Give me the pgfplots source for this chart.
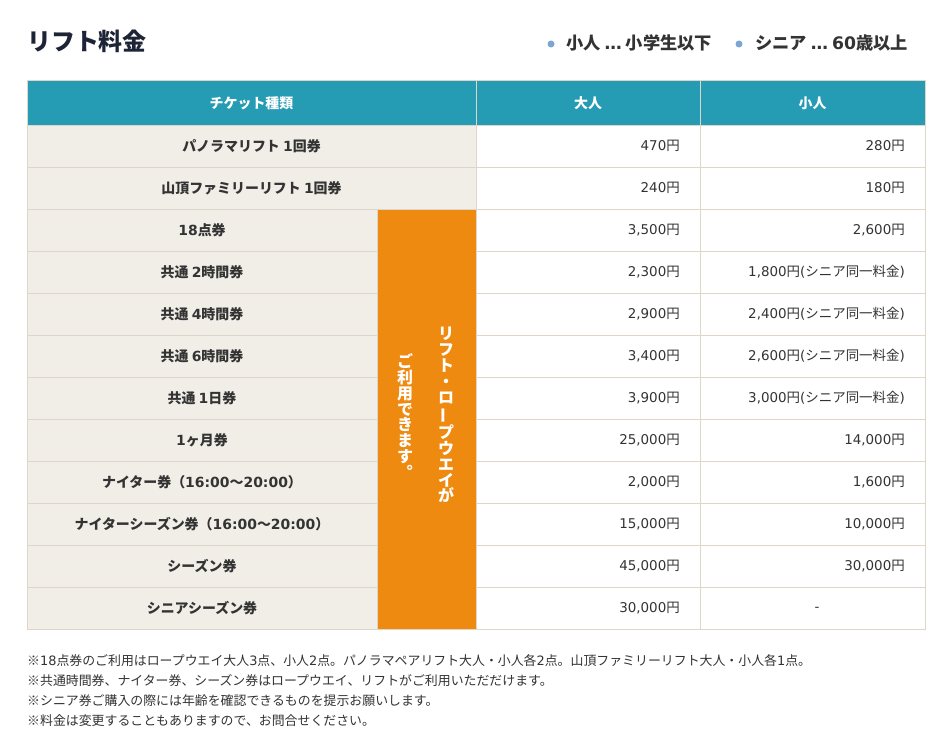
\documentclass[border=0pt]{standalone}
\usepackage{fontspec}
\usepackage{graphicx}
\usepackage{pgfplots}
\pgfplotsset{compat=1.18}
\setmainfont{Noto Sans CJK JP}
\newfontfamily\latfont{DejaVu Sans}
\newfontfamily\cjkfont{Noto Sans CJK JP}
\definecolor{teal}{HTML}{269CB4}
\definecolor{beige}{HTML}{F1EEE8}
\definecolor{gline}{HTML}{DED6C8}
\definecolor{orng}{HTML}{EF8A10}
\definecolor{txt}{HTML}{333333}
\definecolor{titlec}{HTML}{1D2435}
\definecolor{bullet}{HTML}{7BA6D3}
\newcommand\fs[1]{\fontsize{#1}{#1}\selectfont}
\newXeTeXintercharclass\CJKcls
\newcount\cc
\def\setcls#1#2{\cc=#1\relax\loop\XeTeXcharclass\cc=\CJKcls\relax\ifnum\cc<#2\advance\cc by 1\repeat}
\setcls{"3000}{"30FF}
\setcls{"4E00}{"9FFF}
\setcls{"FE10}{"FE4F}
\setcls{"FF00}{"FFEF}
\XeTeXcharclass"203B=\CJKcls
\XeTeXinterchartoks \CJKcls 0 = {\latfont}
\XeTeXinterchartoks 0 \CJKcls = {\cjkfont}
\XeTeXinterchartoks 4095 0 = {\latfont}
\XeTeXinterchartoks 0 4095 = {\cjkfont}
\newcommand\vbar{\rotatebox[origin=c]{90}{ー}}
\begin{document}
\XeTeXinterchartokenstate=1
\begin{tikzpicture}
\begin{axis}[
  x=1bp, y=1bp, y dir=reverse,
  xmin=0, xmax=944, ymin=0, ymax=745,
  hide axis, clip=false,
]
% background and cells
\fill[white] (0,0) rectangle (944,745);
\fill[teal] (27,81) rectangle (925,125);
\fill[beige] (27,125) rectangle (476,209);
\fill[beige] (27,209) rectangle (377,629);
\fill[orng] (377,209) rectangle (476,629);
% grid lines
\draw[gline, line width=1bp] (27,81) rectangle (925,629);
\draw[gline, line width=1bp] (27,125) -- (925,125);
\draw[gline, line width=1bp] (27,167) -- (925,167);
\draw[gline, line width=1bp] (27,209) -- (925,209);
\draw[gline, line width=1bp] (27,251) -- (377,251) (476,251) -- (925,251);
\draw[gline, line width=1bp] (27,293) -- (377,293) (476,293) -- (925,293);
\draw[gline, line width=1bp] (27,335) -- (377,335) (476,335) -- (925,335);
\draw[gline, line width=1bp] (27,377) -- (377,377) (476,377) -- (925,377);
\draw[gline, line width=1bp] (27,419) -- (377,419) (476,419) -- (925,419);
\draw[gline, line width=1bp] (27,461) -- (377,461) (476,461) -- (925,461);
\draw[gline, line width=1bp] (27,503) -- (377,503) (476,503) -- (925,503);
\draw[gline, line width=1bp] (27,545) -- (377,545) (476,545) -- (925,545);
\draw[gline, line width=1bp] (27,587) -- (377,587) (476,587) -- (925,587);
\draw[gline, line width=1bp] (476,81) -- (476,629);
\draw[gline, line width=1bp] (700,81) -- (700,629);
\draw[gline, line width=1bp] (377,209) -- (377,629);
% title and legend
\node[anchor=west, inner sep=0pt, font=\bfseries\fs{24}, text=titlec] at (27,41) {リフト料金};
\node[circle, fill=bullet, inner sep=0pt, minimum size=7bp] at (551,44) {};
\node[circle, fill=bullet, inner sep=0pt, minimum size=7bp] at (739,44) {};
\node[anchor=west, inner sep=0pt, font=\bfseries\fs{17.3}, text=txt] at (566,43) {小人 … 小学生以下};
\node[anchor=west, inner sep=0pt, font=\bfseries\fs{17.3}, text=txt] at (755,43) {シニア … 60歳以上};
% header
\node[font=\bfseries\fs{14}, text=white] at (251.5,103) {チケット種類};
\node[font=\bfseries\fs{14}, text=white] at (588,103) {大人};
\node[font=\bfseries\fs{14}, text=white] at (812.5,103) {小人};
% row labels
\begin{scope}[every node/.style={font=\bfseries\fs{14}, text=txt, inner sep=0pt}]
\node at (251.5,146) {パノラマリフト 1回券};
\node at (251.5,188) {山頂ファミリーリフト 1回券};
\node at (202,230) {18点券};
\node at (202,272) {共通 2時間券};
\node at (202,314) {共通 4時間券};
\node at (202,356) {共通 6時間券};
\node at (202,398) {共通 1日券};
\node at (202,440) {1ヶ月券};
\node at (202,482) {ナイター券（16:00～20:00）};
\node at (202,524) {ナイターシーズン券（16:00～20:00）};
\node at (202,566) {シーズン券};
\node at (202,608) {シニアシーズン券};
\end{scope}
% vertical text in orange cell
\node[align=center, inner sep=0pt, font=\bfseries\fs{16}, text=white] at (446,415)
  {リ\\フ\\ト\\・\\ロ\\\vbar\\プ\\ウ\\エ\\イ\\が};
\node[align=center, inner sep=0pt, font=\bfseries\fs{16}, text=white] at (405,416)
  {ご\\利\\用\\で\\き\\ま\\す\\︒};
% prices
\addplot[only marks, mark=none, nodes near coords, point meta=explicit symbolic,
  every node near coord/.append style={anchor=east, inner sep=0pt, font=\fs{13.5}, text=txt}]
  table[x=x, y=y, meta=label, col sep=semicolon, row sep=\\] {
x;y;label\\
680;146;470円\\
680;188;240円\\
680;230;3,500円\\
680;272;2,300円\\
680;314;2,900円\\
680;356;3,400円\\
680;398;3,900円\\
680;440;25,000円\\
680;482;2,000円\\
680;524;15,000円\\
680;566;45,000円\\
680;608;30,000円\\
905;146;280円\\
905;188;180円\\
905;230;2,600円\\
905;272;1,800円(シニア同一料金)\\
905;314;2,400円(シニア同一料金)\\
905;356;2,600円(シニア同一料金)\\
905;398;3,000円(シニア同一料金)\\
905;440;14,000円\\
905;482;1,600円\\
905;524;10,000円\\
905;566;30,000円\\
};
\node[font=\fs{13.5}, text=txt, inner sep=0pt] at (817,609) {-};
% footnotes
\begin{scope}[every node/.style={anchor=west, inner sep=0pt, font=\fs{12.95}, text=txt}]
\node at (27,661) {※18点券のご利用はロープウエイ大人3点、小人2点。パノラマペアリフト大人・小人各2点。山頂ファミリーリフト大人・小人各1点。};
\node at (27,681) {※共通時間券、ナイター券、シーズン券はロープウエイ、リフトがご利用いただだけます。};
\node at (27,701) {※シニア券ご購入の際には年齢を確認できるものを提示お願いします。};
\node at (27,721) {※料金は変更することもありますので、お問合せください。};
\end{scope}
\end{axis}
\end{tikzpicture}
\end{document}
